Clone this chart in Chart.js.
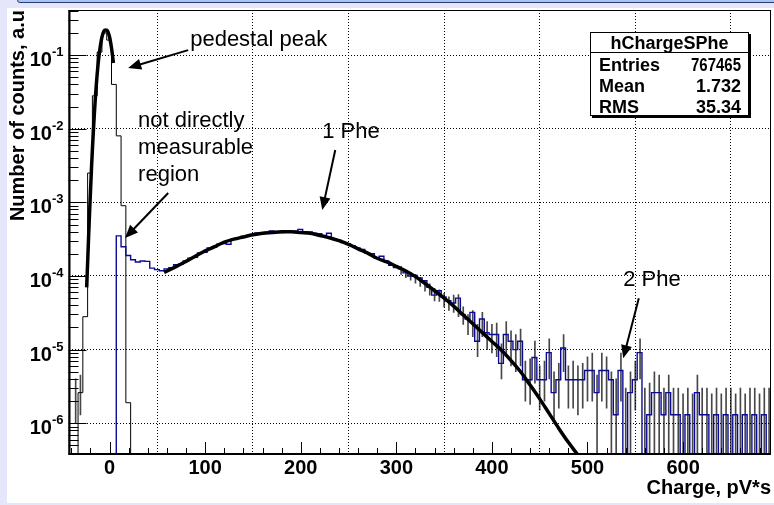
<!DOCTYPE html>
<html>
<head>
<meta charset="utf-8">
<script src="https://cdn.jsdelivr.net/npm/chart.js@4.4.0/dist/chart.umd.min.js"></script>
<style>
  html, body { margin: 0; padding: 0; }
  body { width: 774px; height: 505px; background: #e6e6fa; position: relative; overflow: hidden; }
  #bar { position: absolute; left: 17px; top: -8px; width: 780px; height: 9px; background: #a9c6ee; border: 1px solid #2a3a78; border-radius: 3px; }
  #box { position: absolute; left: 7px; top: 8px; width: 767px; height: 495px; background: #fff; }
</style>
</head>
<body>
<div id="bar"></div>
<div id="box"><canvas id="chart" width="767" height="495"></canvas></div>
<script>
// ====== Datos ======
const X_MIN = -43, X_MAX = 692;
const Y_MIN = 3.7e-7, Y_MAX = 0.41;
const xTickVals = [0, 100, 200, 300, 400, 500, 600];
const yDecades = [-1, -2, -3, -4, -5, -6];

// histograma negro del pedestal (bins de 5 desde -43)
const pedStart = -43, pedWidth = 5;
const pedCounts = [0, 0, 2.6e-6, 2.8e-5, 2.5e-3, 2.8e-2, 0.11, 0.2, 0.16, 0.04, 8e-3, 9e-4, 1.9e-6, 0];

// histograma azul (bins de 5 desde -43)
const blueStart = -43, blueWidth = 5;
const blueCounts = [
  0, 0, 0, 0, 0, 0, 0, 0, 0, 0,
  3.5e-4, 2.5e-4, 1.9e-4, 1.66e-4, 1.55e-4, 1.6e-4, 1.58e-4, 1.28e-4, 1.22e-4, 1.18e-4,
  1.25e-4, 1.3e-4, 1.42e-4, 1.45e-4, 1.6e-4, 1.75e-4, 1.8e-4, 2.05e-4, 2.1e-4, 2.4e-4,
  2.45e-4, 2.7e-4, 2.75e-4, 2.7e-4, 3.15e-4, 3.3e-4, 3.45e-4, 3.5e-4, 3.65e-4, 3.85e-4,
  3.75e-4, 3.9e-4, 4.1e-4, 3.95e-4, 3.9e-4, 4.0e-4, 3.95e-4, 4.05e-4, 4.3e-4, 4.0e-4,
  3.95e-4, 3.8e-4, 3.75e-4, 3.55e-4, 3.8e-4, 3.2e-4, 3.05e-4, 2.85e-4, 2.75e-4, 2.55e-4,
  2.4e-4, 2.3e-4, 2.05e-4, 2.0e-4, 1.75e-4, 1.85e-4, 1.6e-4, 1.4e-4, 1.3e-4, 1.25e-4,
  1.1e-4, 1.0e-4, 1.02e-4, 9.4e-5, 8.6e-5, 7.0e-5, 5.5e-5, 6.3e-5, 5.2e-5, 4.6e-5,
  4.3e-5, 5.0e-5, 3.0e-5, 2.6e-5, 3.2e-5, 1.3e-5, 2.6e-5, 1.7e-5, 1.6e-5, 1.6e-5,
  6.5e-6, 1.6e-5, 1.3e-5, 1.0e-5, 1.3e-5, 3.9e-6, 3.9e-6, 7.8e-6, 3.9e-6, 3.9e-6,
  9.1e-6, 2.6e-6, 3.9e-6, 1.05e-5, 3.9e-6, 3.9e-6, 3.9e-6, 3.9e-6, 5.2e-6, 5.2e-6,
  2.6e-6, 5.2e-6, 5.2e-6, 3.9e-6, 1.3e-6, 5.2e-6, 0, 2.6e-6, 3.9e-6, 9.1e-6,
  0, 1.3e-6, 2.6e-6, 2.6e-6, 1.3e-6, 2.6e-6, 1.3e-6, 1.3e-6, 0, 1.3e-6,
  0, 2.6e-6, 1.3e-6, 1.3e-6, 0, 1.3e-6, 0, 1.3e-6, 0, 1.3e-6,
  0, 1.3e-6, 0, 1.3e-6, 0, 1.3e-6, 0
];

// barras de error del histograma negro
const errX = [-35.5, -30.5,
  305, 310, 315, 320, 325, 330, 335, 340, 345, 350, 355, 360, 365, 370, 375, 380, 385, 390, 395, 400,
  405, 410, 415, 420, 425, 430, 435, 440, 445, 450, 455, 460, 465, 470, 475, 480, 485, 490, 495, 500,
  505, 510, 515, 520, 525, 530, 535, 540, 545, 550, 555,
  560, 565, 570, 575, 580, 585, 590, 595, 600, 605, 610, 615, 620, 625, 630, 635, 640, 645, 650, 655,
  660, 665, 670, 675, 680, 685, 690];
const errLo = [1e-6, 1.3e-6,
  1.05e-4, 9.5e-5, 8.8e-5, 8e-5, 7.2e-5, 6.2e-5, 5.5e-5, 4.6e-5, 4.5e-5, 3.8e-5, 3.4e-5, 3.2e-5, 2.8e-5, 2.2e-5, 1.6e-5, 1.5e-5, 8e-6, 1.5e-5, 1.0e-5, 9e-6,
  8e-6, 4e-6, 9e-6, 6e-6, 5e-6, 6e-6, 2e-6, 1.8e-6, 3.5e-6, 1.5e-6, 2e-6, 4e-6, 1e-6, 1.6e-6, 5e-6, 1.6e-6, 1.6e-6, 1.3e-6, 1.6e-6, 2e-6,
  2e-6, 0, 2e-6, 1.6e-6, 0, 0, 2e-6, 0, 0, 1.5e-6, 4e-6,
  0, 0, 0, 0, 0, 0, 0, 0, 0, 0, 0, 0, 0, 0, 0, 0, 0, 0, 0, 0,
  0, 0, 0, 0, 0, 0, 0];
const errHi = [4e-6, 4.5e-6,
  1.35e-4, 1.2e-4, 1.12e-4, 1.05e-4, 9.5e-5, 8.5e-5, 7.8e-5, 6.8e-5, 6.5e-5, 5.8e-5, 5.2e-5, 5.5e-5, 5.6e-5, 3.8e-5, 3.0e-5, 3.4e-5, 2.2e-5, 3.2e-5, 2.4e-5, 2.2e-5,
  2.3e-5, 1.2e-5, 2.4e-5, 1.8e-5, 1.6e-5, 1.9e-5, 7e-6, 7.5e-6, 1.3e-5, 6e-6, 7e-6, 1.4e-5, 5e-6, 6.5e-6, 1.6e-5, 6e-6, 7e-6, 6e-6, 6.5e-6, 8e-6,
  9e-6, 4.5e-6, 9e-6, 8e-6, 5e-6, 4e-6, 9e-6, 3e-6, 5e-6, 7e-6, 1.4e-5,
  3e-6, 3.5e-6, 5e-6, 4.5e-6, 3e-6, 4.5e-6, 3e-6, 3e-6, 2.5e-6, 3e-6, 2.5e-6, 4.5e-6, 3e-6, 3e-6, 2.5e-6, 3e-6, 2.5e-6, 3e-6, 3e-6, 2.5e-6,
  3e-6, 2.5e-6, 3e-6, 3e-6, 2.5e-6, 3e-6, 3e-6];

// ajuste del pedestal
const pedFitX = [-24, -23, -22, -21, -20, -19, -18, -17, -16, -15, -14, -13, -12, -11, -10, -9, -8, -7, -6, -5, -4, -3, -2, -1, 0, 1, 2, 3, 4];
const pedFitY = [7e-5, 1.5e-4, 3.3e-4, 7e-4, 1.4e-3, 2.8e-3, 5.2e-3, 9.2e-3, 1.55e-2, 2.5e-2, 3.8e-2, 5.5e-2, 7.6e-2, 0.1, 0.125,
  0.15, 0.175, 0.195, 0.21, 0.218, 0.22, 0.218, 0.21, 0.195, 0.175, 0.15, 0.125, 0.1, 0.078];

// ajuste 1 Phe
const pheFitX = [57, 70, 80, 90, 100, 110, 120, 130, 140, 150, 160, 170, 180, 190, 200, 210, 220, 230, 240, 250, 260, 270,
  280, 290, 300, 310, 320, 330, 340, 350, 360, 370, 380, 390, 400, 410, 420, 430, 440, 450, 460, 470, 480, 490];
const pheFitY = [1.12e-4, 1.35e-4, 1.58e-4, 1.86e-4, 2.19e-4, 2.51e-4, 2.88e-4, 3.16e-4, 3.39e-4, 3.63e-4, 3.8e-4, 3.89e-4,
  3.98e-4, 3.98e-4, 3.89e-4, 3.8e-4, 3.55e-4, 3.31e-4, 3.02e-4, 2.69e-4, 2.34e-4, 2.04e-4, 1.74e-4, 1.55e-4, 1.35e-4, 1.17e-4,
  9.8e-5, 7.9e-5, 6.3e-5, 5.0e-5, 3.9e-5, 2.95e-5, 2.24e-5, 1.7e-5, 1.29e-5, 9.8e-6, 7.1e-6, 5.0e-6, 3.3e-6, 2.14e-6, 1.35e-6,
  8.5e-7, 5.5e-7, 3.7e-7];

// caja de estadística
const statsTitle = 'hChargeSPhe';
const statsRows = [['Entries', '767465'], ['Mean', '1.732'], ['RMS', '35.34']];

// anotaciones (en coordenadas de datos)
const notes = [
  { lines: ['pedestal peak'], x: 84.3, y: 0.132 },
  { lines: ['not directly', 'measurable', 'region'], x: 29.8, y: 1.064e-2 },
  { lines: ['1 Phe'], x: 222.5, y: 7.46e-3 },
  { lines: ['2 Phe'], x: 537.4, y: 7.3e-5 }
];
const arrows = [
  { from: [82.2, 0.117], to: [19.4, 0.0667] },
  { from: [61.3, 1.34e-3], to: [16.2, 3.28e-4] },
  { from: [236.1, 5.13e-3], to: [222.5, 7.87e-4] },
  { from: [553.7, 4.98e-5], to: [537.4, 7.64e-6] }
];

const FONT = '"Liberation Sans", Arial, Helvetica, sans-serif';

// ====== Helpers ======
function histPoints(start, width, vals) {
  const pts = vals.map((v, i) => ({ x: start + i * width, y: v > 0 ? v : Y_MIN }));
  pts.push({ x: start + vals.length * width, y: pts[pts.length - 1].y });
  return pts;
}
function isDecade(v) {
  const l = Math.log10(v);
  return Math.abs(l - Math.round(l)) < 1e-6;
}

// ====== Plugin estilo ROOT: ticks internos, marco, etiquetas, stats, flechas ======
const rootStyle = {
  id: 'rootStyle',
  afterDatasetsDraw(chart) {
    const { ctx, chartArea: a, scales: { x, y } } = chart;
    ctx.save();
    ctx.strokeStyle = '#000';
    ctx.fillStyle = '#000';
    ctx.lineWidth = 1;

    // ticks hacia dentro
    ctx.beginPath();
    for (let v = Math.ceil(X_MIN / 20) * 20; v <= X_MAX; v += 20) {
      const px = Math.round(x.getPixelForValue(v)) + 0.5;
      const len = v % 100 === 0 ? 13 : 7;
      ctx.moveTo(px, a.bottom);
      ctx.lineTo(px, a.bottom - len);
    }
    for (let e = Math.floor(Math.log10(Y_MIN)); e <= Math.ceil(Math.log10(Y_MAX)); e++) {
      for (let m = 1; m <= 9; m++) {
        const v = m * Math.pow(10, e);
        if (v < Y_MIN || v > Y_MAX) continue;
        const py = Math.round(y.getPixelForValue(v)) + 0.5;
        ctx.moveTo(a.left, py);
        ctx.lineTo(a.left + (m === 1 ? 18 : 10), py);
      }
    }
    ctx.stroke();

    // marco
    ctx.strokeRect(a.left + 0.5, a.top + 0.5, a.width - 1, a.height - 1);
    ctx.lineWidth = 2;
    ctx.beginPath();
    ctx.moveTo(a.left + 1, a.top);
    ctx.lineTo(a.left + 1, a.bottom - 1);
    ctx.lineTo(a.right, a.bottom - 1);
    ctx.stroke();

    // etiquetas del eje Y: 10^-n
    ctx.textBaseline = 'alphabetic';
    yDecades.forEach(n => {
      const py = y.getPixelForValue(Math.pow(10, n));
      const sup = String(n);
      ctx.font = 'bold 13px ' + FONT;
      const supW = ctx.measureText(sup).width;
      const right = a.left - 5;
      ctx.textAlign = 'left';
      ctx.fillText(sup, right - supW, py + 1);
      ctx.font = 'bold 20px ' + FONT;
      ctx.textAlign = 'right';
      ctx.fillText('10', right - supW, py + 11);
    });

    // anotaciones
    ctx.font = '22px ' + FONT;
    ctx.textAlign = 'left';
    notes.forEach(n => {
      const px = x.getPixelForValue(n.x);
      const py = y.getPixelForValue(n.y);
      n.lines.forEach((t, i) => ctx.fillText(t, px, py + i * 27));
    });
    arrows.forEach(ar => {
      const x0 = x.getPixelForValue(ar.from[0]), y0 = y.getPixelForValue(ar.from[1]);
      const x1 = x.getPixelForValue(ar.to[0]), y1 = y.getPixelForValue(ar.to[1]);
      const ang = Math.atan2(y1 - y0, x1 - x0);
      const hl = 13, hw = 5.5;
      ctx.lineWidth = 2;
      ctx.beginPath();
      ctx.moveTo(x0, y0);
      ctx.lineTo(x1 - Math.cos(ang) * hl * 0.8, y1 - Math.sin(ang) * hl * 0.8);
      ctx.stroke();
      ctx.beginPath();
      ctx.moveTo(x1, y1);
      ctx.lineTo(x1 - Math.cos(ang) * hl - Math.sin(ang) * hw, y1 - Math.sin(ang) * hl + Math.cos(ang) * hw);
      ctx.lineTo(x1 - Math.cos(ang) * hl + Math.sin(ang) * hw, y1 - Math.sin(ang) * hl - Math.cos(ang) * hw);
      ctx.closePath();
      ctx.fill();
    });

    // caja de estadística
    const bw = 159, bh = 84;
    const bx = a.right - 22 - bw, by = a.top + 22;
    ctx.fillStyle = '#000';
    ctx.fillRect(bx + 2, by + 2, bw, bh);
    ctx.fillStyle = '#fff';
    ctx.fillRect(bx, by, bw, bh);
    ctx.lineWidth = 1;
    ctx.strokeRect(bx + 0.5, by + 0.5, bw - 1, bh - 1);
    ctx.beginPath();
    ctx.moveTo(bx, by + 20.5);
    ctx.lineTo(bx + bw, by + 20.5);
    ctx.stroke();
    ctx.fillStyle = '#000';
    ctx.font = 'bold 18px ' + FONT;
    ctx.textAlign = 'center';
    ctx.fillText(statsTitle, bx + bw / 2, by + 17);
    statsRows.forEach((r, i) => {
      const base = by + 39 + i * 21;
      ctx.textAlign = 'left';
      ctx.fillText(r[0], bx + 9, base);
      ctx.textAlign = 'right';
      ctx.fillText(r[1], bx + bw - 8, base, 50);
    });
    ctx.restore();
  }
};

// ====== Gráfica ======
const ctxHist = document.getElementById('chart').getContext('2d');
new Chart(ctxHist, {
  type: 'line',
  data: {
    datasets: [
      {
        label: 'fit pedestal',
        data: pedFitX.map((v, i) => ({ x: v, y: pedFitY[i] })),
        borderColor: '#000', borderWidth: 3.5, pointRadius: 0,
        cubicInterpolationMode: 'monotone', order: 0
      },
      {
        label: 'fit 1 Phe',
        data: pheFitX.map((v, i) => ({ x: v, y: pheFitY[i] })),
        borderColor: '#000', borderWidth: 3.5, pointRadius: 0,
        cubicInterpolationMode: 'monotone', order: 0
      },
      {
        label: 'hChargeSPhe (azul)',
        data: histPoints(blueStart, blueWidth, blueCounts),
        borderColor: '#0a0a96', borderWidth: 1.4, pointRadius: 0,
        stepped: true, order: 1
      },
      {
        label: 'hChargeSPhe',
        data: histPoints(pedStart, pedWidth, pedCounts),
        borderColor: '#000', borderWidth: 1, pointRadius: 0,
        stepped: true, order: 2
      },
      {
        type: 'bar',
        label: 'errores',
        data: errX.map((v, i) => ({ x: v, y: [errLo[i] > 0 ? errLo[i] : Y_MIN, errHi[i]] })),
        backgroundColor: 'rgba(0,0,0,0.72)',
        barThickness: 1, grouped: false, order: 3
      }
    ]
  },
  options: {
    responsive: false,
    animation: false,
    events: [],
    layout: { padding: { top: 2, right: 3, left: 0, bottom: 0 } },
    plugins: { legend: { display: false }, tooltip: { enabled: false } },
    scales: {
      x: {
        type: 'linear', min: X_MIN, max: X_MAX, bounds: 'data', offset: false,
        afterBuildTicks: s => { s.ticks = xTickVals.map(v => ({ value: v })); },
        ticks: {
          autoSkip: false, maxRotation: 0, padding: 1,
          color: '#000', font: { family: FONT, size: 20, weight: 'bold' }
        },
        grid: { drawTicks: false, color: '#000', lineWidth: 1 },
        border: { display: false, dash: [1, 2] },
        title: {
          display: true, text: 'Charge, pV*s', align: 'end', color: '#000',
          font: { family: FONT, size: 20, weight: 'bold' }, padding: { top: 0, bottom: 3 }
        },
        afterFit: s => { s.height = 48; }
      },
      y: {
        type: 'logarithmic', min: Y_MIN, max: Y_MAX, bounds: 'data',
        ticks: { display: false },
        grid: {
          drawTicks: false, lineWidth: 1,
          color: c => (c.tick && isDecade(c.tick.value)) ? '#000' : 'rgba(0,0,0,0)'
        },
        border: { display: false, dash: [1, 2] },
        title: {
          display: true, text: 'Number of counts, a.u', align: 'end', color: '#000',
          font: { family: FONT, size: 20, weight: 'bold', lineHeight: 1.0 }, padding: { top: 1, bottom: 0 }
        },
        afterFit: s => { s.width = 61.5; }
      }
    }
  },
  plugins: [rootStyle]
});
</script>
</body>
</html>
